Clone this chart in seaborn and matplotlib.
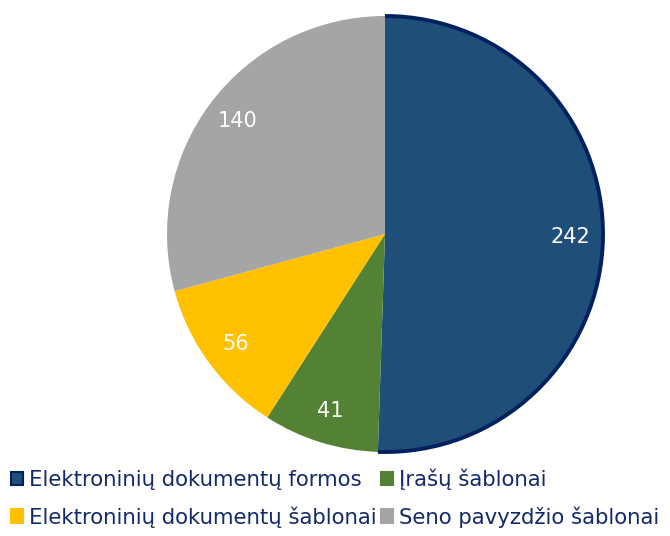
import matplotlib
matplotlib.use("Agg")
import matplotlib.pyplot as plt
from matplotlib.patches import Patch, Arc
import seaborn as sns

# --- Data ---
categories = [
    "Elektroninių dokumentų formos",
    "Įrašų šablonai",
    "Elektroninių dokumentų šablonai",
    "Seno pavyzdžio šablonai",
]
values = [242, 41, 56, 140]
colors = ["#1F4E79", "#548235", "#FFC000", "#A5A5A5"]
outline = "#002060"
TEXT_COLOR = "#13296A"

sns.set_theme(style="white")
plt.rcParams["font.family"] = ["DejaVu Sans"]

fig = plt.figure(figsize=(6.7, 5.36), dpi=100)
# pie centre at (385, 234) px, radius ~218 px
r_px = 218 * 1.03
ax = fig.add_axes([(385 - r_px) / 670, (302 - r_px) / 536, 2 * r_px / 670, 2 * r_px / 536])

wedges, texts, autotexts = ax.pie(
    values,
    colors=colors,
    startangle=90,
    counterclock=False,
    autopct=lambda p: f"{p * sum(values) / 100:.0f}",
    pctdistance=0.85,
    wedgeprops={"linewidth": 0},
    textprops={"color": "white", "fontsize": 15},
)
# dark outline only on the outer arc of the first slice
w0 = wedges[0]
ax.add_patch(Arc((0, 0), 2, 2, theta1=w0.theta1, theta2=w0.theta2,
                 color=outline, linewidth=2.8))

ax.set_xlim(-1.03, 1.03)
ax.set_ylim(-1.03, 1.03)
ax.set_aspect("equal")
ax.axis("off")

# legend laid out row-wise: matplotlib fills columns first
handles = [Patch(facecolor=colors[0], edgecolor=outline, linewidth=1.5)]
handles += [Patch(facecolor=c, edgecolor=c, linewidth=1.5) for c in colors[1:]]
order = [0, 2, 1, 3]
leg = fig.legend(
    [handles[i] for i in order],
    [categories[i] for i in order],
    loc="lower left",
    bbox_to_anchor=(0.0, -0.004),
    ncol=2,
    frameon=False,
    fontsize=15.3,
    handlelength=0.6,
    handleheight=0.6,
    handletextpad=0.25,
    columnspacing=0.2,
    labelspacing=0.75,
    borderaxespad=0.1,
)
for t in leg.get_texts():
    t.set_color(TEXT_COLOR)

fig.savefig("out.png", dpi=100)
